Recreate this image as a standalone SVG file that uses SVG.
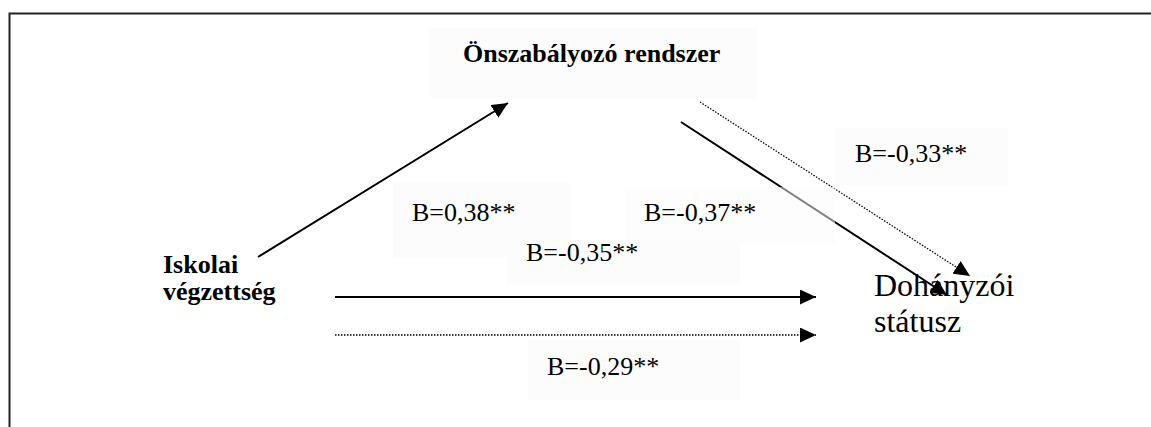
<svg xmlns="http://www.w3.org/2000/svg" width="1151" height="427" viewBox="0 0 1151 427">
  <style>
    .bold { font-family: "Liberation Serif", "Times New Roman", serif; font-weight: bold; font-size: 26px; fill: #000; }
    .lbl { font-family: "Liberation Serif", "Times New Roman", serif; font-size: 26px; fill: #000; }
    .big { font-family: "Liberation Serif", "Times New Roman", serif; font-size: 32px; fill: #000; }
    .box { fill: #fcfcfc; stroke: none; }
    .solid { stroke: #000; stroke-width: 2; fill: none; }
    .dotted { stroke: #000; stroke-width: 1.3; stroke-dasharray: 1.5 1.5; fill: none; }
  </style>
  <defs>
    <marker id="ah" viewBox="0 0 16 15" refX="16" refY="7.5" markerWidth="16" markerHeight="15" markerUnits="userSpaceOnUse" orient="auto">
      <path d="M0,0 L16,7.5 L0,15 Z" fill="#000"/>
    </marker>
  </defs>
  <rect x="0" y="0" width="1151" height="427" fill="#fff"/>
  <g id="frame">
    <path d="M9.5,427 L9.5,13.5 L1151,13.5" fill="none" stroke="#222" stroke-width="2"/>
  </g>
  <g id="label-boxes">
    <rect class="box" x="430" y="28" width="327" height="70"/>
    <rect class="box" x="393" y="183" width="177" height="74"/>
    <rect class="box" x="507" y="240" width="233" height="45"/>
    <rect class="box" x="835" y="128" width="173" height="57"/>
    <rect class="box" x="528" y="340" width="212" height="60"/>
  </g>
  <g id="connectors">
    <line class="solid" x1="258" y1="257" x2="508" y2="103" marker-end="url(#ah)"/>
    <line class="solid" x1="681" y1="122" x2="947" y2="295" marker-end="url(#ah)"/>
    <line class="dotted" x1="700" y1="102" x2="970" y2="276" marker-end="url(#ah)"/>
    <line class="solid" x1="335" y1="297" x2="816" y2="297" marker-end="url(#ah)"/>
    <line class="dotted" x1="335" y1="335" x2="816" y2="335" marker-end="url(#ah)"/>
  </g>
  <g id="label-box-overlay">
    <rect x="625" y="187" width="210" height="58" fill="#fcfcfc" opacity="0.5"/>
  </g>
  <g id="node-onszabalyozo">
    <text class="bold" x="463" y="62">Önszabályozó rendszer</text>
  </g>
  <g id="node-iskolai">
    <text class="bold" x="163" y="273">Iskolai</text>
    <text class="bold" x="163" y="300">végzettség</text>
  </g>
  <g id="node-dohanyzoi">
    <text class="big" x="874" y="296">Dohányzói</text>
    <text class="big" x="874" y="332">státusz</text>
  </g>
  <g id="labels">
    <text class="lbl" x="412" y="221">B=0,38**</text>
    <text class="lbl" x="644" y="221">B=-0,37**</text>
    <text class="lbl" x="526" y="261">B=-0,35**</text>
    <text class="lbl" x="855" y="162">B=-0,33**</text>
    <text class="lbl" x="547" y="375">B=-0,29**</text>
  </g>
</svg>
